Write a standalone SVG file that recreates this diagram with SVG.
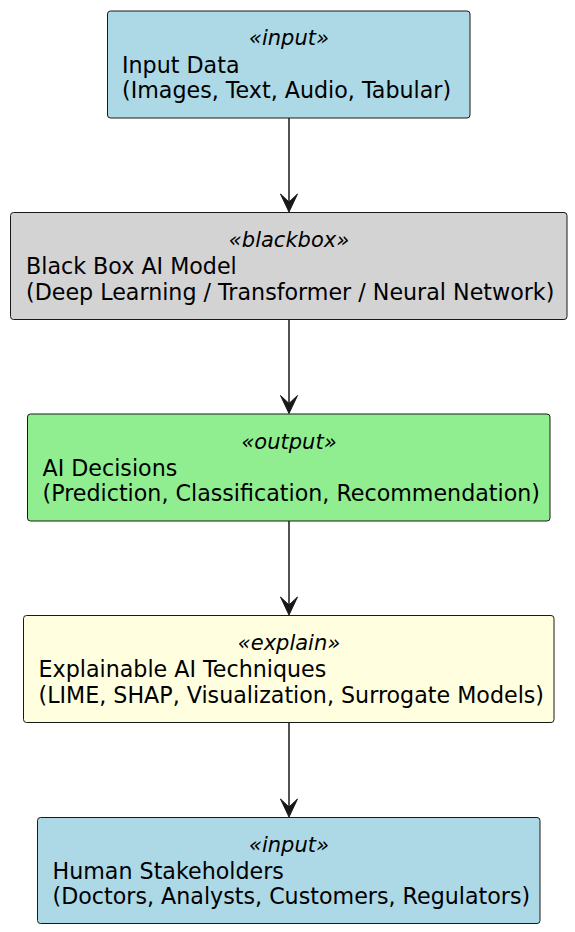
<svg xmlns="http://www.w3.org/2000/svg" width="575" height="932" viewBox="0 0 575 932">
<style>
.box{stroke:#181818;stroke-width:1}
text{font-family:"DejaVu Sans",sans-serif;font-size:22.2px;fill:#000}
.st{font-style:italic;text-anchor:middle;font-size:21px}
.ln{stroke:#181818;stroke-width:1.5;fill:none}
.ah{fill:#181818;stroke:#181818;stroke-width:1}
</style>
<rect width="575" height="932" fill="#fff"/>
<g id="input_data">
<rect class="box" x="107.5" y="11" width="362.5" height="107" rx="3" fill="#ADD8E6"/>
<text class="st" x="289" y="45">«input»</text>
<text x="122" y="72.5">Input Data</text>
<text x="122" y="98">(Images, Text, Audio, Tabular)</text>
</g>
<g id="black_box">
<rect class="box" x="10.5" y="212.5" width="556.5" height="107" rx="3" fill="#D3D3D3"/>
<text class="st" x="289" y="247">«blackbox»</text>
<text x="26" y="274">Black Box AI Model</text>
<text x="26" y="299.5">(Deep Learning / Transformer / Neural Network)</text>
</g>
<g id="ai_decisions">
<rect class="box" x="27.5" y="414" width="522.5" height="107" rx="3" fill="#90EE90"/>
<text class="st" x="289" y="448.5">«output»</text>
<text x="42.5" y="475.5">AI Decisions</text>
<text x="42.5" y="501">(Prediction, Classification, Recommendation)</text>
</g>
<g id="xai">
<rect class="box" x="23.5" y="615.5" width="530.5" height="107" rx="3" fill="#FFFFE0"/>
<text class="st" x="289" y="650">«explain»</text>
<text x="38.5" y="677">Explainable AI Techniques</text>
<text x="38.5" y="702.5">(LIME, SHAP, Visualization, Surrogate Models)</text>
</g>
<g id="stakeholders">
<rect class="box" x="37.5" y="817.5" width="502.5" height="106" rx="3" fill="#ADD8E6"/>
<text class="st" x="289" y="851.5">«input»</text>
<text x="52.5" y="878.5">Human Stakeholders</text>
<text x="52.5" y="904">(Doctors, Analysts, Customers, Regulators)</text>
</g>
<g id="connectors">
<line class="ln" x1="289" y1="118" x2="289" y2="204"/>
<polygon class="ah" points="289,212 280.5,194 289,202 297.5,194"/>
<line class="ln" x1="289" y1="320" x2="289" y2="406"/>
<polygon class="ah" points="289,413.5 280.5,395.5 289,403.5 297.5,395.5"/>
<line class="ln" x1="289" y1="521" x2="289" y2="607"/>
<polygon class="ah" points="289,615 280.5,597 289,605 297.5,597"/>
<line class="ln" x1="289" y1="722.5" x2="289" y2="809"/>
<polygon class="ah" points="289,817 280.5,799 289,807 297.5,799"/>
</g>
</svg>
